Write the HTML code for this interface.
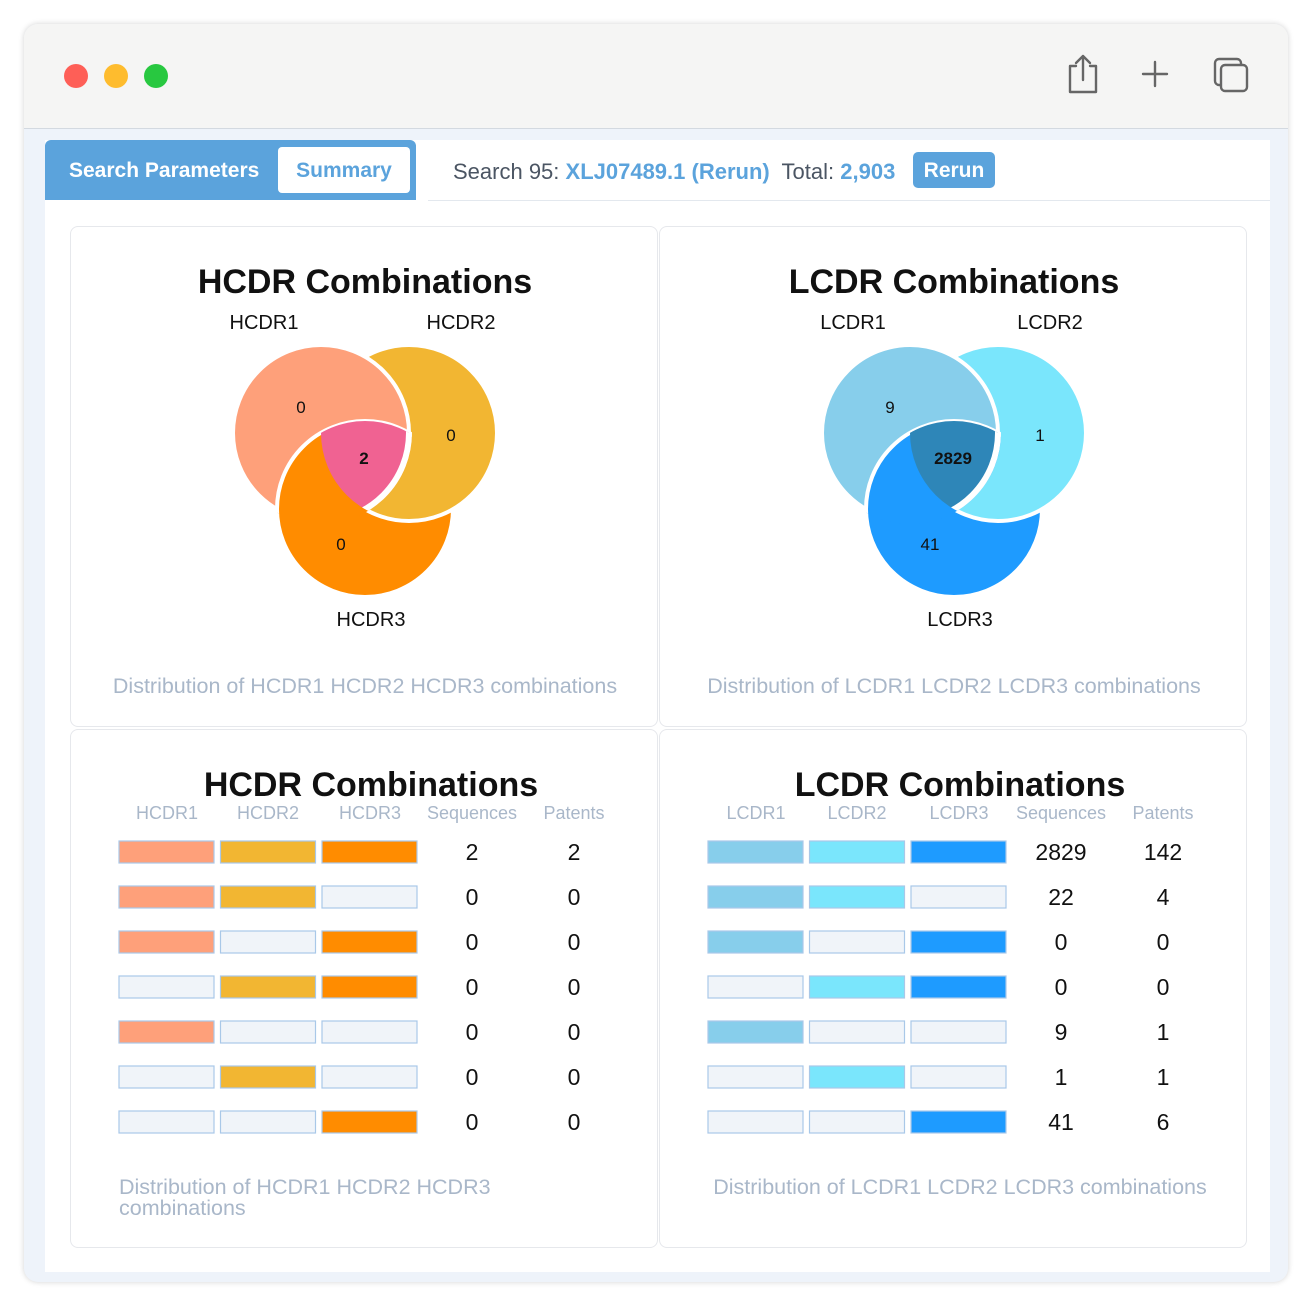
<!DOCTYPE html>
<html><head><meta charset="utf-8">
<style>
body{margin:0;width:1314px;height:1306px;background:#fff;font-family:"Liberation Sans",sans-serif;position:relative;overflow:hidden}
.abs{position:absolute}
#win{left:24px;top:24px;width:1264px;height:1258px;border-radius:14px;background:#eef3fa;box-shadow:0 0 6px rgba(0,0,0,.18);overflow:hidden}
#titlebar{left:0;top:0;width:1264px;height:104px;background:#f5f5f4;border-bottom:1.5px solid #d3d9e0}
.dot{width:24px;height:24px;border-radius:50%;top:40px}
.card{background:#fff;border:1px solid #e6e8ec;border-radius:8px;box-sizing:border-box}
svg text{font-family:"Liberation Sans",sans-serif}
</style></head><body>
<div id="win" class="abs">
 <div id="titlebar" class="abs">
  <div class="abs dot" style="left:40px;background:#fe5f57"></div>
  <div class="abs dot" style="left:80px;background:#febc2e"></div>
  <div class="abs dot" style="left:120px;background:#28c840"></div>
  <svg class="abs" style="left:1030px;top:26px" width="220" height="50">
   <g fill="none" stroke="#666" stroke-width="2.4" stroke-linecap="round" stroke-linejoin="round">
    <g><path d="M22 16 H16 V42 H42 V16 H36"/><path d="M29 30 V6 M22 13 L29 6 L36 13"/></g>
    <g><path d="M101 12 V36 M89 24 H113"/></g>
    <g><rect x="161" y="9" width="26" height="26" rx="4"/><rect x="167" y="15" width="26" height="26" rx="4" fill="#f5f5f4"/></g>
   </g>
  </svg>
 </div>
 <div class="abs" style="left:21px;top:116px;width:1225px;height:1132px;background:#fff"></div>
 <div class="abs" style="left:21px;top:116px;width:371px;height:60px;background:#5ba3dc;border-radius:6px 6px 0 0">
  <div class="abs" style="left:24px;top:19px;color:#fff;font-size:21px;font-weight:bold">Search Parameters</div>
  <div class="abs" style="left:233px;top:7px;width:132px;height:46px;background:#fff;border-radius:4px;color:#5ba3dc;font-size:21px;font-weight:bold;line-height:48px;text-align:center">Summary</div>
 </div>
 <div class="abs" style="left:404px;top:116px;width:842px;height:60px;background:#fff;border-radius:6px 6px 0 0;border-bottom:1px solid #e3e8ee">
  <div class="abs" style="left:25px;top:19px;font-size:22px;color:#4b5563;white-space:nowrap">Search 95: <b style="color:#5ba3dc">XLJ07489.1 (Rerun)</b>&nbsp; Total: <b style="color:#5ba3dc">2,903</b></div>
  <div class="abs" style="left:485px;top:12px;width:82px;height:36px;background:#5ba3dc;border-radius:5px;color:#fff;font-weight:bold;font-size:21px;line-height:38px;text-align:center">Rerun</div>
 </div>
</div>
<div id="cards"></div>
<script>
const hLabels=["HCDR1","HCDR2","HCDR3"];
const lLabels=["LCDR1","LCDR2","LCDR3"];
const hVenn=[0,0,0,2]; // only1, only2, only3, all
const lVenn=[9,1,41,2829];
const hColors=["#fea07a","#f2b632","#ff8c00","#f06292"];
const lColors=["#87ceeb","#7ae6fc","#1e9bff","#2e86b8"];
const hSeq=[2,0,0,0,0,0,0];
const hPat=[2,0,0,0,0,0,0];
const lSeq=[2829,22,0,0,9,1,41];
const lPat=[142,4,0,0,1,1,6];
const combos=[[1,1,1],[1,1,0],[1,0,1],[0,1,1],[1,0,0],[0,1,0],[0,0,1]];
const NS="http://www.w3.org/2000/svg";
const capColor='#a9b7c9';
function mk(tag,attrs,parent){const e=document.createElementNS(NS,tag);for(const k in attrs)e.setAttribute(k,attrs[k]);parent.appendChild(e);return e;}
function card(x,y,w,h,name){const d=document.createElement('div');d.className='abs card';d.style.cssText=`left:${x}px;top:${y}px;width:${w}px;height:${h}px`;


document.getElementById('cards').appendChild(d);
const s=document.createElementNS(NS,'svg');s.setAttribute('width',w);s.setAttribute('height',h);s.style.position='absolute';s.style.left='0';s.style.top='0';d.appendChild(s);return s;}
function txt(s,x,y,str,size,fill,weight,anchor,name){const t=mk('text',{x:x,y:y,'font-size':size,fill:fill,'font-weight':weight||'normal','text-anchor':anchor||'middle'},s);t.textContent=str;


return t;}
function venn(ox,labels,vals,colors,prefix,titleStr){
 const s=card(ox,226,588,501,prefix+'-venn-card');
 txt(s,294,66,titleStr,34,'#111','bold','middle','venn-title');
 const r=88, c=[[250,206],[338,206],[294,282]];
 const id=prefix+'v';
 c.forEach((p,i)=>{const cp=mk('clipPath',{id:id+'c'+i},s);mk('circle',{cx:p[0],cy:p[1],r:r},cp);});
 const cpx=mk('clipPath',{id:id+'big0'},s);mk('circle',{cx:c[0][0],cy:c[0][1],r:r+3},cpx);
 const circ=(i,parent)=>{const e=mk('circle',{cx:c[i][0],cy:c[i][1],r:r,fill:colors[i],stroke:'#fff','stroke-width':4},parent);
  
  return e;};
 circ(2,s);circ(1,s);circ(0,s);
 const g3=mk('g',{'clip-path':`url(#${id}big0)`},s);circ(2,g3);
 const ga=mk('g',{'clip-path':`url(#${id}c2)`},s);const gb=mk('g',{'clip-path':`url(#${id}c1)`},ga);
 const ce=mk('circle',{cx:c[0][0],cy:c[0][1],r:r,fill:colors[3],stroke:'#fff','stroke-width':6},gb);
 
 
 txt(s,230,186,vals[0],17,'#111','normal','middle','venn-value-1');
 txt(s,380,214,vals[1],17,'#111','normal','middle','venn-value-2');
 txt(s,270,323,vals[2],17,'#111','normal','middle','venn-value-3');
 txt(s,293,237,vals[3],17,'#111','bold','middle','venn-value-center');
 txt(s,193,102,labels[0],20,'#111','normal','middle','venn-label-1');
 txt(s,390,102,labels[1],20,'#111','normal','middle','venn-label-2');
 txt(s,300,399,labels[2],20,'#111','normal','middle','venn-label-3');
 txt(s,294,466,`Distribution of ${labels.join(' ')} combinations`,21.5,capColor,'normal','middle','venn-caption');
}
function table(ox,labels,colors,seq,pat,prefix,titleStr,wrap){
 const s=card(ox,729,588,519,prefix+'-table-card');
 txt(s,300,66,titleStr,34,'#111','bold','middle','table-title');
 const colX=[96,197,299,401,503];
 labels.concat(['Sequences','Patents']).forEach((l,i)=>txt(s,colX[i],89,l,18,capColor,'normal','middle','column-header'));
 combos.forEach((cmb,ri)=>{const y=111+ri*45;
  cmb.forEach((on,ci)=>{const b=mk('rect',{x:48+ci*101.5,y:y,width:95,height:22,fill:on?colors[ci]:'#f0f4f9',stroke:'#a9c8e8','stroke-width':1.2},s);
   
   });
  txt(s,colX[3],y+19,seq[ri],23,'#111','normal','middle','sequence-count');
  txt(s,colX[4],y+19,pat[ri],23,'#111','normal','middle','patent-count');
 });
 if(wrap){txt(s,48,464,`Distribution of ${labels.join(' ')}`,21.5,capColor,'normal','start','table-caption');txt(s,48,485,'combinations',21.5,capColor,'normal','start','table-caption');}
 else txt(s,300,464,`Distribution of ${labels.join(' ')} combinations`,21.5,capColor,'normal','middle','table-caption');
}
venn(70,hLabels,hVenn,hColors,'hcdr','HCDR Combinations');
venn(659,lLabels,lVenn,lColors,'lcdr','LCDR Combinations');
table(70,hLabels,hColors,hSeq,hPat,'hcdr','HCDR Combinations',true);
table(659,lLabels,lColors,lSeq,lPat,'lcdr','LCDR Combinations',false);
</script>
</body></html>
